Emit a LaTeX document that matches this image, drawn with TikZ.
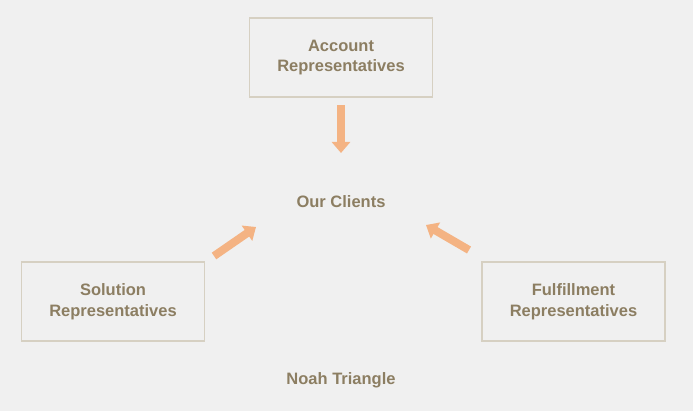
\documentclass[tikz,border=0pt]{standalone}
\usepackage{fontspec}
\setmainfont{Liberation Sans}
\usetikzlibrary{arrows.meta}
\definecolor{pagebg}{HTML}{F0F0F0}
\definecolor{boxline}{HTML}{D6D0C2}
\definecolor{inktext}{HTML}{8C7E62}
\definecolor{pushorange}{HTML}{F4B383}
\tikzset{
  repbox/.style={
    draw=boxline,
    line width=1.2pt,
    align=center,
    minimum width=183pt,
    minimum height=79pt,
    text=inktext,
    font=\fontsize{16.5}{20.5}\selectfont\bfseries
  },
  plain/.style={
    text=inktext,
    font=\fontsize{16.5}{20}\selectfont\bfseries
  },
  push/.style={
    -{Triangle[width=18pt,length=11pt]},
    line width=8pt,
    draw=pushorange
  }
}
\begin{document}
\begin{tikzpicture}[x=1pt,y=-1pt]
  \fill[pagebg] (0,0) rectangle (693,411);
  \useasboundingbox (0,0) rectangle (693,411);

  \node[repbox] (acct) at (341,57.5) {Account\\Representatives};
  \node[repbox] (solution) at (113,301.5) {Solution\\Representatives};
  \node[repbox] (fulfil) at (573.5,301.5) {Fulfillment\\Representatives};
  \node[plain] (clients) at (341,202) {Our Clients};
  \node[plain] (title) at (341,380.5) {Noah Triangle};

  \coordinate (topfrom) at (341,105);
  \coordinate (topto) at (341,153);
  \coordinate (leftfrom) at (214,256);
  \coordinate (leftto) at (256,227);
  \coordinate (rightfrom) at (469,250);
  \coordinate (rightto) at (426,225);

  \draw[push] (topfrom) -- (topto);
  \draw[push] (leftfrom) -- (leftto);
  \draw[push] (rightfrom) -- (rightto);
\end{tikzpicture}
\end{document}
